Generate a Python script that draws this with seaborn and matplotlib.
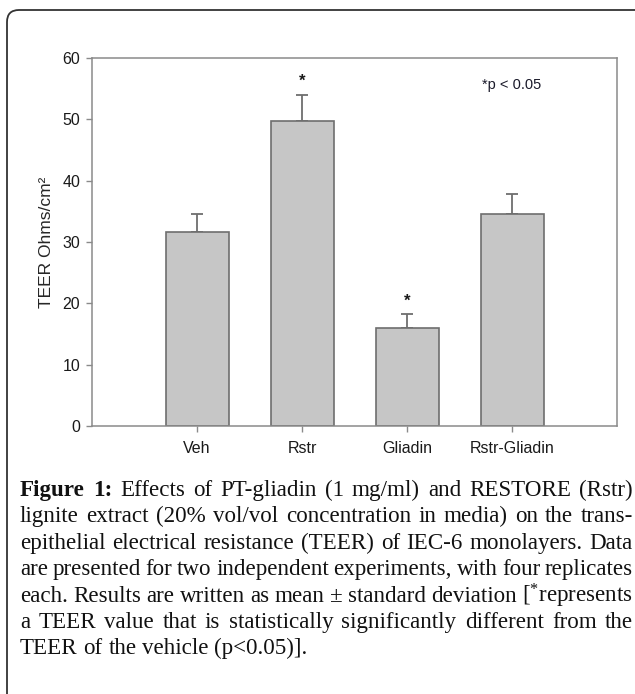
import matplotlib
matplotlib.use('Agg')
import matplotlib.pyplot as plt
import numpy as np
import pandas as pd
import seaborn as sns
from matplotlib.patches import FancyBboxPatch
from matplotlib.transforms import IdentityTransform

# data (mean and SD of TEER)
groups = ['Veh', 'Rstr', 'Gliadin', 'Rstr-Gliadin']
teer_mean = [31.6, 49.8, 16.0, 34.6]
teer_sd = [3.0, 4.2, 2.2, 3.2]
signif = [False, True, True, False]
yticks = [0, 10, 20, 30, 40, 50, 60]

caption_lines = [
    "Figure 1: Effects of PT-gliadin (1 mg/ml) and RESTORE (Rstr)",
    "lignite extract (20% vol/vol concentration in media) on the trans-",
    "epithelial electrical resistance (TEER) of IEC-6 monolayers. Data",
    "are presented for two independent experiments, with four replicates",
    "each. Results are written as mean \u00b1 standard deviation [$^{*}$represents",
    "a TEER value that is statistically significantly different from the",
    "TEER of the vehicle (p<0.05)].",
]

sns.set_style('ticks')
plt.rcParams['font.family'] = ['Liberation Sans', 'DejaVu Sans']
plt.rcParams['mathtext.default'] = 'regular'

df = pd.DataFrame({'group': groups, 'teer': teer_mean})

fig = plt.figure(figsize=(6.35, 6.94), dpi=100)
W, H = 635, 694
ax = fig.add_axes([92 / W, 1 - 426 / H, 525 / W, 368 / H])

edge = '#6e6e6e'
sns.barplot(data=df, x='group', y='teer', color='#c6c6c6', saturation=1,
            edgecolor=edge, linewidth=1.2, width=0.6, errorbar=None, ax=ax,
            zorder=2)
x = np.arange(len(groups))
ax.errorbar(x, teer_mean, yerr=[np.zeros(len(groups)), teer_sd], fmt='none',
            ecolor=edge, elinewidth=1.3, capsize=4, capthick=1.3, zorder=1)

for i in range(len(groups)):
    if signif[i]:
        ax.text(i, teer_mean[i] + teer_sd[i] + 2.2, '*', ha='center',
                va='center', fontsize=12, weight='bold', color='#1a1a1a')
ax.text(2.71, 55.6, '*p < 0.05', ha='left', va='center', fontsize=10.5,
        color='#1a1a2a')

ax.set_xlim(-1, 4)
ax.set_ylim(0, 60)
ax.set_yticks(yticks)
ax.set_xlabel('')
ax.set_ylabel('TEER Ohms/cm\u00b2', fontsize=12.5, labelpad=6)
for s in ax.spines.values():
    s.set_visible(True)
    s.set_color('#8a8a8a')
    s.set_linewidth(1.1)
ax.tick_params(axis='both', direction='out', length=4.5, width=1,
               color='#8a8a8a', labelsize=11.5, pad=4, labelcolor='#1a1a1a')
ax.tick_params(axis='x', pad=6)

# outer frame of the figure panel
frame = FancyBboxPatch((7, -30), 700, 714,
                       boxstyle='round,pad=0,rounding_size=12',
                       transform=IdentityTransform(), fill=False,
                       ec='#333333', lw=1.3)
fig.add_artist(frame)

# justified caption
cap_size = 16.6
x0, x1 = 20, 633
baselines = [496, 522, 549, 575, 602, 628, 654]
renderer = fig.canvas.get_renderer()
space = 0.25 * cap_size * 100 / 72
for k, (line, yb) in enumerate(zip(caption_lines, baselines)):
    words = line.split(' ')
    texts = []
    for j, w in enumerate(words):
        bold = (k == 0 and j < 2)
        t = fig.text(0, 1 - yb / H, w, fontsize=cap_size,
                     family='Liberation Serif',
                     weight='bold' if bold else 'normal',
                     ha='left', va='baseline', color='#111111')
        texts.append(t)
    widths = [t.get_window_extent(renderer).width for t in texts]
    if k == len(caption_lines) - 1:
        gap = space
    else:
        gap = (x1 - x0 - sum(widths)) / (len(words) - 1)
    xp = x0
    for t, w in zip(texts, widths):
        t.set_x(xp / W)
        xp += w + gap

fig.savefig('out.png', dpi=100)
